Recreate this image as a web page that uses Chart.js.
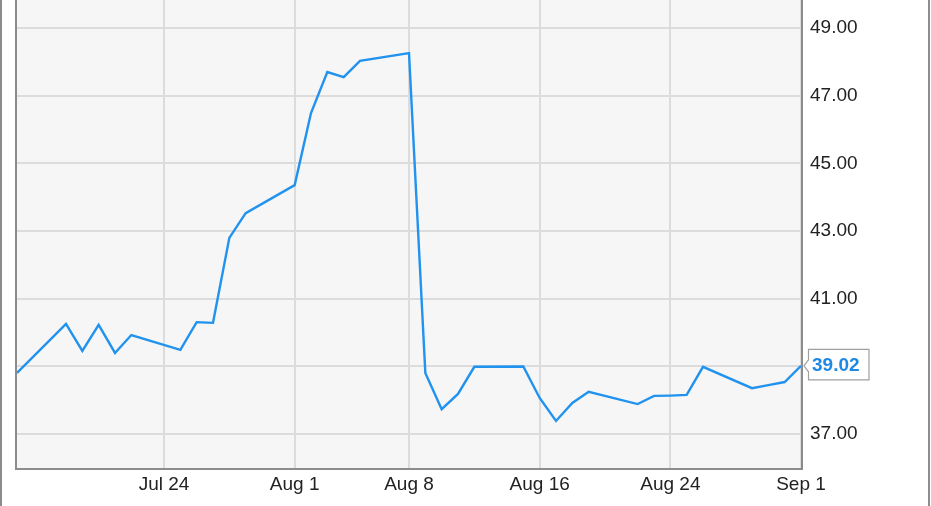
<!DOCTYPE html>
<html>
<head>
<meta charset="utf-8">
<script src="https://cdn.jsdelivr.net/npm/chart.js@4/dist/chart.umd.min.js"></script>
<style>
html,body{margin:0;padding:0;background:#fff;}
#wrap{width:931px;height:506px;position:relative;}
</style>
</head>
<body>
<div id="wrap"><canvas id="c" width="931" height="506"></canvas></div>
<script>
// ---- data (2016 trading days) ----
const dates = ['2016-07-15','2016-07-18','2016-07-19','2016-07-20','2016-07-21','2016-07-22',
  '2016-07-25','2016-07-26','2016-07-27','2016-07-28','2016-07-29',
  '2016-08-01','2016-08-02','2016-08-03','2016-08-04','2016-08-05',
  '2016-08-08','2016-08-09','2016-08-10','2016-08-11','2016-08-12',
  '2016-08-15','2016-08-16','2016-08-17','2016-08-18','2016-08-19',
  '2016-08-22','2016-08-23','2016-08-24','2016-08-25','2016-08-26',
  '2016-08-29','2016-08-30','2016-08-31','2016-09-01'];
const prices = [38.81,40.26,39.46,40.23,39.40,39.93,
  39.49,40.31,40.29,42.80,43.53,
  44.36,46.49,47.70,47.55,48.03,
  48.26,38.81,37.74,38.19,38.99,
  39.00,38.07,37.39,37.92,38.25,
  37.89,38.13,38.14,38.16,38.99,
  38.36,38.45,38.54,39.02];
const xTickDates = ['2016-07-24','2016-08-01','2016-08-08','2016-08-16','2016-08-24','2016-09-01'];
const xTickLabels = ['Jul 24','Aug 1','Aug 8','Aug 16','Aug 24','Sep 1'];
const yTicks = [37,39,41,43,45,47,49];
const lastLabel = '39.02';

const dayNum = s => Date.UTC(+s.slice(0,4), +s.slice(5,7)-1, +s.slice(8,10)) / 86400000;
const points = dates.map((d,i)=>({x: dayNum(d), y: prices[i]}));
const xTickNums = xTickDates.map(dayNum);
const FONT = '"Liberation Sans", Arial, sans-serif';

const decor = {
  id: 'decor',
  beforeDraw(chart){
    const {ctx, chartArea:a} = chart;
    ctx.save();
    ctx.fillStyle = '#f6f6f6';
    ctx.fillRect(a.left, a.top, a.right-a.left, a.bottom-a.top);
    ctx.restore();
  },
  afterDraw(chart){
    const {ctx, chartArea:a, scales} = chart;
    ctx.save();
    // plot border
    ctx.strokeStyle = '#8c8c8c';
    ctx.lineWidth = 2;
    ctx.beginPath();
    ctx.moveTo(a.left-1, a.top); ctx.lineTo(a.left-1, a.bottom+1);
    ctx.lineTo(a.right+1, a.bottom+1); ctx.lineTo(a.right+1, a.top);
    ctx.stroke();
    // outer frame
    ctx.beginPath();
    ctx.moveTo(1, 0); ctx.lineTo(1, chart.height);
    ctx.moveTo(chart.width-2, 0); ctx.lineTo(chart.width-2, chart.height);
    ctx.stroke();
    // last value label
    const last = points[points.length-1];
    const px = scales.x.getPixelForValue(last.x);
    const py = scales.y.getPixelForValue(last.y);
    const bx = px + 7, bw = 61, bh = 31, by = py - 17;
    ctx.fillStyle = '#ffffff';
    ctx.strokeStyle = '#a0a0a0';
    ctx.lineWidth = 1.2;
    ctx.beginPath();
    ctx.moveTo(bx+0.5, by+0.5);
    ctx.lineTo(bx+bw, by+0.5);
    ctx.lineTo(bx+bw, by+bh);
    ctx.lineTo(bx+0.5, by+bh);
    ctx.lineTo(bx+0.5, py+6);
    ctx.lineTo(px+3, py);
    ctx.lineTo(bx+0.5, py-6);
    ctx.closePath();
    ctx.fill(); ctx.stroke();
    ctx.fillStyle = '#1e88e5';
    ctx.font = 'bold 19px ' + FONT;
    ctx.textBaseline = 'middle';
    ctx.textAlign = 'left';
    ctx.fillText(lastLabel, bx+4, py);
    ctx.restore();
  }
};

new Chart(document.getElementById('c'), {
  type: 'line',
  data: { datasets: [{
    data: points,
    borderColor: '#2192ee',
    borderWidth: 2.4,
    pointRadius: 0,
    tension: 0,
    fill: false
  }]},
  options: {
    responsive: false,
    animation: false,
    devicePixelRatio: 1,
    layout: { padding: { left: 17, top: 0, right: 0, bottom: 0 } },
    plugins: { legend: {display:false}, tooltip: {enabled:false} },
    scales: {
      x: {
        type: 'linear',
        min: dayNum(dates[0]),
        max: dayNum(dates[dates.length-1]),
        afterBuildTicks(s){ s.ticks = xTickNums.map(v=>({value:v})); },
        afterFit(s){ s.height = 38; s.paddingLeft = 0; s.paddingRight = 0; },
        grid: { color: '#dcdcdc', lineWidth: 2, drawTicks: false },
        border: { display: false },
        ticks: {
          padding: 5,
          color: '#222',
          font: { family: FONT, size: 19 },
          maxRotation: 0,
          autoSkip: false,
          callback: (v) => { const i = xTickNums.indexOf(v); return i>=0 ? xTickLabels[i] : ''; }
        }
      },
      y: {
        position: 'right',
        min: 36,
        max: 49.83,
        afterBuildTicks(s){ s.ticks = yTicks.map(v=>({value:v})); },
        afterFit(s){ s.width = 130; s.paddingTop = 0; s.paddingBottom = 0; },
        grid: { color: '#dcdcdc', lineWidth: 2, drawTicks: false },
        border: { display: false },
        ticks: {
          padding: 9,
          color: '#222',
          font: { family: FONT, size: 19 },
          callback: v => v.toFixed(2)
        }
      }
    }
  },
  plugins: [decor]
});
</script>
</body>
</html>
